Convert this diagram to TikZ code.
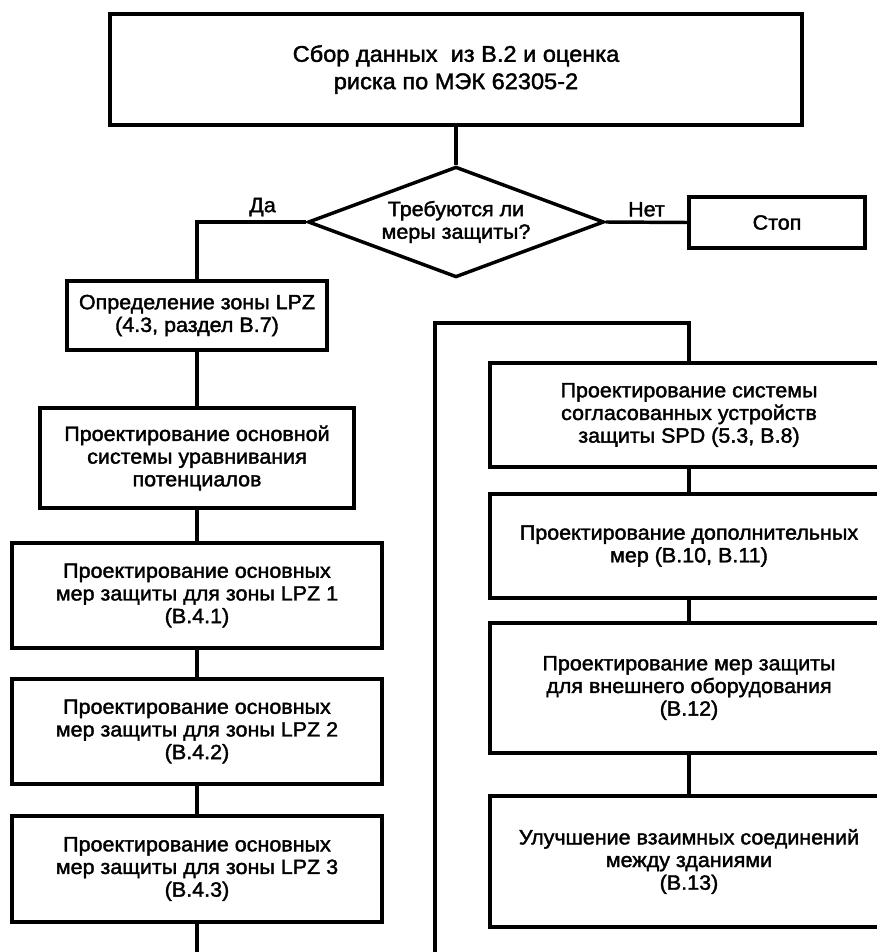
\documentclass[tikz,border=0pt]{standalone}
\usepackage{fontspec}
\setmainfont{Liberation Sans}[FakeStretch=1.04, FakeBold=1.8]
\usetikzlibrary{shapes.geometric}

\tikzset{
  box/.style={draw, line width=2.6pt, align=center, inner sep=0pt,
    font=\fontsize{15.5}{17}\selectfont},
  link/.style={line width=2.6pt},
  tag/.style={font=\fontsize{15.5}{17}\selectfont, inner sep=3pt}
}

\begin{document}
\begin{tikzpicture}[x=0.75pt, y=-0.75pt]
  \useasboundingbox (0,0) rectangle (877,952);
  \clip (0,0) rectangle (877,952);

  % top and decision
  \node[box, minimum width=519pt, minimum height=83.25pt, font=\fontsize{17}{20.5}\selectfont]
    (collect) at (456,69.5) {Сбор данных\ \ из B.2 и оценка\\риска по МЭК 62305-2};
  \node[box, diamond, aspect=2.7, minimum width=222pt, minimum height=83pt] (ask) at (456,222)
    {Требуются ли\\меры защиты?};
  \node[box, minimum width=132pt, minimum height=38.25pt] (stop) at (777,222.5) {Стоп};

  % left column
  \node[box, minimum width=195pt, minimum height=51.75pt] (lpz) at (197,315.5)
    {Определение зоны LPZ\\(4.3, раздел B.7)};
  \node[box, minimum width=235.5pt, minimum height=75pt] (bonding) at (197,458)
    {Проектирование основной\\системы уравнивания\\потенциалов};
  \node[box, minimum width=277.5pt, minimum height=78.75pt] (zone1) at (197,595.5)
    {Проектирование основных\\мер защиты для зоны LPZ 1\\(B.4.1)};
  \node[box, minimum width=277.5pt, minimum height=78.75pt] (zone2) at (197,731.5)
    {Проектирование основных\\мер защиты для зоны LPZ 2\\(B.4.2)};
  \node[box, minimum width=277.5pt, minimum height=79.5pt] (zone3) at (197,869)
    {Проектирование основных\\мер защиты для зоны LPZ 3\\(B.4.3)};

  % right column
  \node[box, minimum width=298.5pt, minimum height=78pt] (spd) at (689,415)
    {Проектирование системы\\согласованных устройств\\защиты SPD (5.3, B.8)};
  \node[box, minimum width=298.5pt, minimum height=78pt] (extra) at (689,546)
    {Проектирование дополнительных\\мер (B.10, B.11)};
  \node[box, minimum width=298.5pt, minimum height=97.5pt] (outdoor) at (689,688)
    {Проектирование мер защиты\\для внешнего оборудования\\(B.12)};
  \node[box, minimum width=298.5pt, minimum height=98.25pt] (between) at (689,861.5)
    {Улучшение взаимных соединений\\между зданиями\\(B.13)};

  \coordinate (endL) at (197,952);
  \coordinate (endR) at (435,952);
  \coordinate (turn) at (435,323);

  % connectors
  \draw[link] (collect.south) -- (ask.north);
  \draw[link] (ask.west) -| node[tag, pos=0.2, above] {Да} (lpz.north);
  \draw[link] (ask.east) -- node[tag, above] {Нет} (stop.west);
  \draw[link] (lpz) -- (bonding);
  \draw[link] (bonding) -- (zone1);
  \draw[link] (zone1) -- (zone2);
  \draw[link] (zone2) -- (zone3);
  \draw[link] (zone3) -- (endL);
  \draw[link] (endR) -- (turn) -| (spd.north);
  \draw[link] (spd) -- (extra);
  \draw[link] (extra) -- (outdoor);
  \draw[link] (outdoor) -- (between);
\end{tikzpicture}
\end{document}
